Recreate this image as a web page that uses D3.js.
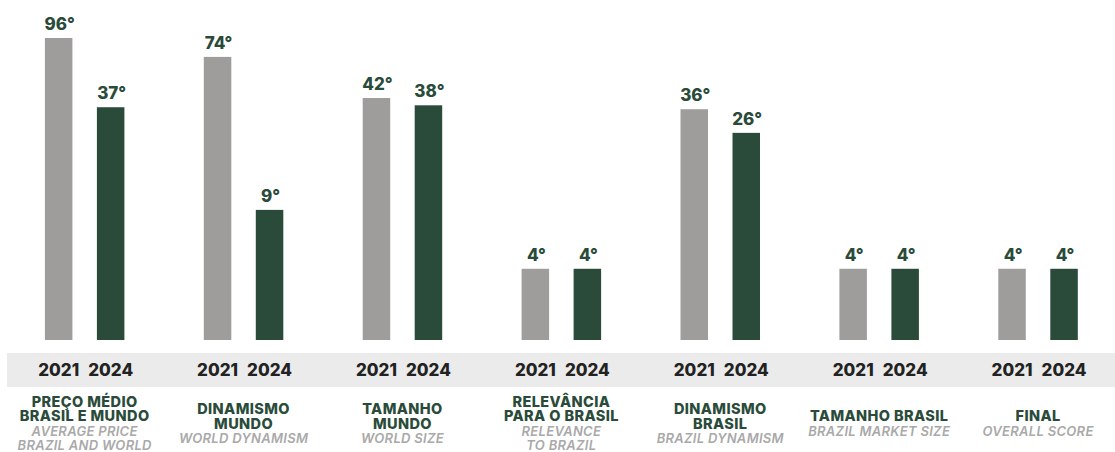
<!DOCTYPE html>
<html>
<head>
<meta charset="utf-8">
<script src="https://cdn.jsdelivr.net/npm/d3@7"></script>
<style>
  html, body { margin: 0; padding: 0; background: #ffffff; }
  svg { display: block; font-family: Inter, "Open Sans", sans-serif; }
</style>
</head>
<body>
<svg id="chart" width="1115" height="452"></svg>
<script>
// Ranking positions per indicator
const categories = ["preco", "dinMundo", "tamMundo", "relevancia", "dinBrasil", "tamBrasil", "final"];
const labelsPt = [
  ["PREÇO MÉDIO", "BRASIL E MUNDO"],
  ["DINAMISMO", "MUNDO"],
  ["TAMANHO", "MUNDO"],
  ["RELEVÂNCIA", "PARA O BRASIL"],
  ["DINAMISMO", "BRASIL"],
  ["TAMANHO BRASIL"],
  ["FINAL"]
];
const labelsEn = [
  ["AVERAGE PRICE", "BRAZIL AND WORLD"],
  ["WORLD DYNAMISM"],
  ["WORLD SIZE"],
  ["RELEVANCE", "TO BRAZIL"],
  ["BRAZIL DYNAMISM"],
  ["BRAZIL MARKET SIZE"],
  ["OVERALL SCORE"]
];
const years = ["2021", "2024"];
const rank2021 = [96, 74, 42, 4, 36, 4, 4];
const rank2024 = [37, 9, 38, 4, 26, 4, 4];

const W = 1115, H = 452;
const baseline = 340;
const colors = { "2021": "#9e9d9b", "2024": "#2a4b3a" };
const green = "#2a4b3a";

const svg = d3.select("#chart");

const x0 = d3.scaleBand().domain(categories).range([5.2, 5.2 + 7 * 158.9]).padding(0);
const x1 = d3.scalePoint().domain(years).range([-26, 26]);
const barW = 27.5;

// Rank to bar height on a logarithmic scale
const y = d3.scaleLog().domain([1.5, 96]).range([baseline, baseline - 302]);

const rows = categories.map((c, i) => ({
  cat: c,
  pt: labelsPt[i],
  en: labelsEn[i],
  values: [
    { year: "2021", v: rank2021[i] },
    { year: "2024", v: rank2024[i] }
  ]
}));

// Year strip
svg.append("rect")
  .attr("x", 7).attr("y", 353)
  .attr("width", W - 7).attr("height", 34)
  .attr("fill", "#ebebeb");

const g = svg.selectAll("g.group")
  .data(rows)
  .join("g")
  .attr("class", "group")
  .attr("transform", d => `translate(${x0(d.cat) + x0.bandwidth() / 2},0)`);

g.selectAll("rect.bar")
  .data(d => d.values)
  .join("rect")
  .attr("class", "bar")
  .attr("x", d => x1(d.year) - barW / 2)
  .attr("y", d => y(d.v))
  .attr("width", barW)
  .attr("height", d => baseline - y(d.v))
  .attr("fill", d => colors[d.year]);

g.selectAll("text.value")
  .data(d => d.values)
  .join("text")
  .attr("class", "value")
  .attr("x", d => x1(d.year) + 1)
  .attr("y", d => y(d.v) - 8)
  .attr("text-anchor", "middle")
  .attr("font-size", 17)
  .attr("font-weight", 800)
  .attr("fill", green)
  .text(d => d.v + "°");

g.selectAll("text.year")
  .data(d => d.values)
  .join("text")
  .attr("class", "year")
  .attr("x", d => x1(d.year))
  .attr("y", 376)
  .attr("text-anchor", "middle")
  .attr("font-size", 17)
  .attr("font-weight", 800)
  .attr("fill", "#222222")
  .text(d => d.year);

// Indicator names: Portuguese in bold green, English in grey italics
const lineH = 14.5, blockMid = 428.5;
g.each(function(d) {
  const lines = d.pt.map(t => ({ t, lang: "pt" })).concat(d.en.map(t => ({ t, lang: "en" })));
  const first = blockMid - (lines.length - 1) * lineH / 2;
  d3.select(this).selectAll("text.cat")
    .data(lines)
    .join("text")
    .attr("class", "cat")
    .attr("x", 0)
    .attr("y", (l, i) => first + i * lineH)
    .attr("text-anchor", "middle")
    .attr("font-size", l => l.lang === "pt" ? 14.5 : 13)
    .attr("letter-spacing", l => l.lang === "pt" ? 0.4 : 0.3)
    .attr("font-weight", l => l.lang === "pt" ? 800 : 600)
    .attr("font-style", l => l.lang === "pt" ? "normal" : "italic")
    .attr("fill", l => l.lang === "pt" ? green : "#a9a9a9")
    .text(l => l.t);
});
</script>
</body>
</html>
